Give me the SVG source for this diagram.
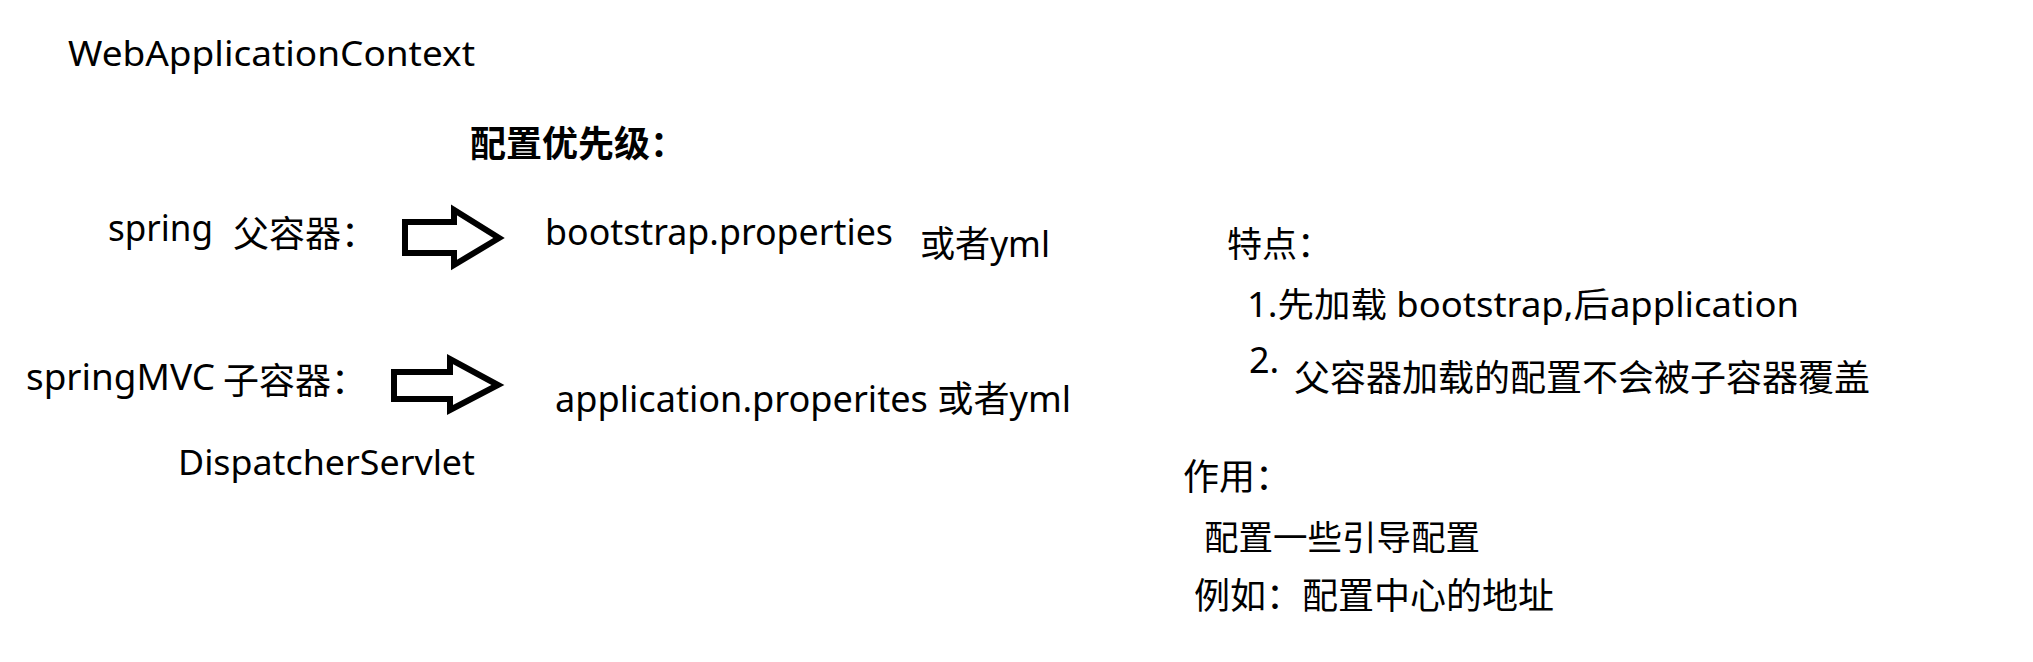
<svg xmlns="http://www.w3.org/2000/svg" width="2033" height="662" viewBox="0 0 2033 662">
<style>
text{font-family:"Noto Sans","Noto Sans CJK SC",sans-serif;fill:#000}
.cjk{font-family:"Noto Sans CJK SC","Noto Sans",sans-serif}
.b{font-weight:bold}
.arrow{fill:#fff;stroke:#000;stroke-width:6;stroke-linejoin:miter}
</style>
<rect width="2033" height="662" fill="#fff"/>
<g id="title"><text x="68" y="66" font-size="34" textLength="407" lengthAdjust="spacingAndGlyphs">WebApplicationContext</text></g>
<g id="priority"><text class="cjk b" x="470" y="157" font-size="36">配置优先级：</text></g>
<g id="spring"><text x="108" y="241" font-size="36" textLength="105" lengthAdjust="spacingAndGlyphs">spring</text><text class="cjk" x="233" y="247" font-size="36">父容器：</text></g>
<g id="bootstrap"><text x="545" y="245" font-size="37" textLength="348" lengthAdjust="spacingAndGlyphs">bootstrap.properties</text><text x="920" y="257" font-size="36" textLength="130" lengthAdjust="spacingAndGlyphs">或者yml</text></g>
<g id="springmvc"><text x="26" y="390" font-size="37" textLength="189" lengthAdjust="spacingAndGlyphs">springMVC</text><text class="cjk" x="223" y="394" font-size="36">子容器：</text></g>
<g id="application"><text x="555" y="412" font-size="36" textLength="516" lengthAdjust="spacingAndGlyphs">application.properites 或者yml</text></g>
<g id="dispatcher"><text x="178" y="475" font-size="35" textLength="297" lengthAdjust="spacingAndGlyphs">DispatcherServlet</text></g>
<g id="features"><text class="cjk" x="1227" y="257" font-size="35">特点：</text><text x="1247" y="317" font-size="34" textLength="552" lengthAdjust="spacingAndGlyphs">1.先加载 bootstrap,后application</text><text x="1249" y="373" font-size="36">2.</text><text class="cjk" x="1294" y="391" font-size="36">父容器加载的配置不会被子容器覆盖</text></g>
<g id="usage"><text class="cjk" x="1183" y="490" font-size="36">作用：</text><text class="cjk" x="1204" y="550" font-size="34.5">配置一些引导配置</text><text class="cjk" x="1194" y="609" font-size="36">例如：配置中心的地址</text></g>
<g id="connectors">
<path class="arrow" d="M405,222 H454 V210 L499,238 L454,265 V253 H405 Z"/>
<path class="arrow" d="M394,372 H450 V359 L498,385 L450,410 V399 H394 Z"/>
</g>
</svg>
